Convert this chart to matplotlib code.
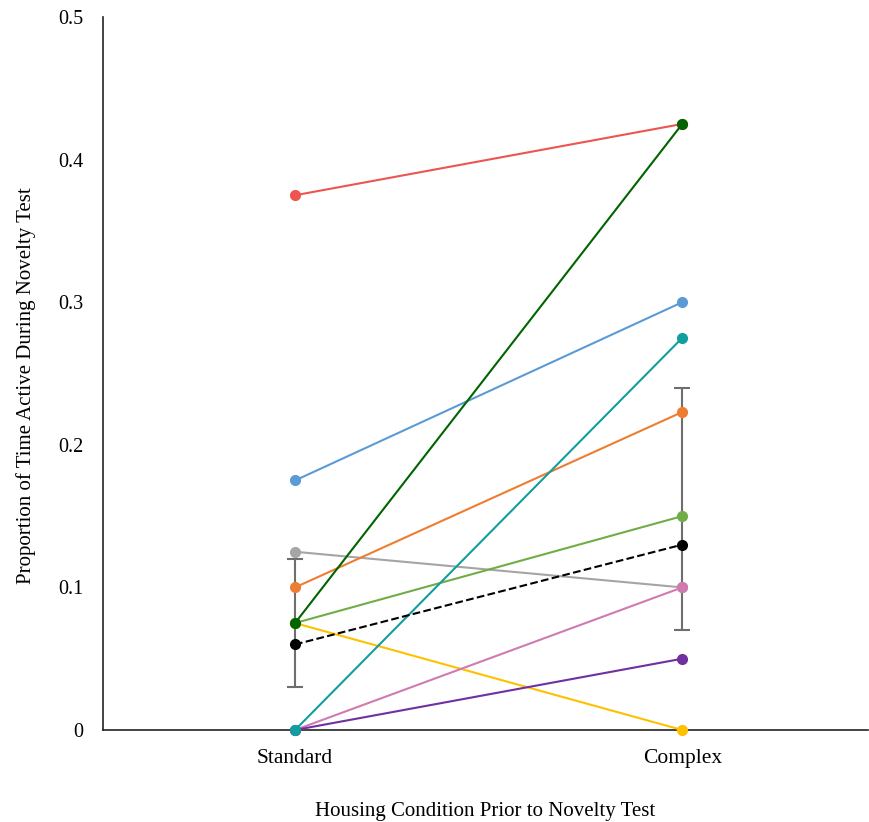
import matplotlib
matplotlib.use("Agg")
import matplotlib.pyplot as plt

plt.rcParams['font.family'] = ['Liberation Serif', 'DejaVu Serif']

conditions = ["Standard", "Complex"]

# Individual subjects: (standard, complex) proportions of time active
subject_standard = [0.375, 0.175, 0.125, 0.100, 0.075, 0.075, 0.0, 0.0, 0.075, 0.0]
subject_complex = [0.425, 0.300, 0.100, 0.223, 0.150, 0.0, 0.100, 0.050, 0.425, 0.275]
subject_colors = ["#EE5450", "#5B9BD5", "#A5A5A5", "#ED7D31", "#70AD47",
                  "#FFC000", "#D07AB0", "#7030A0", "#006400", "#129E9E"]

# Group mean with error range
mean_values = [0.06, 0.13]
err_low = [0.03, 0.07]
err_high = [0.12, 0.24]

fig = plt.figure(figsize=(8.69, 8.22), dpi=100)
ax = fig.add_axes([0.1185, 0.1119, 0.8805, 0.8674])

xpos = [1, 2]
for s, c, col in zip(subject_standard, subject_complex, subject_colors):
    ax.plot(xpos, [s, c], color=col, lw=1.5, marker='o', ms=7, zorder=3,
            clip_on=False)

yerr = [[m - lo for m, lo in zip(mean_values, err_low)],
        [hi - m for m, hi in zip(mean_values, err_high)]]
ax.errorbar(xpos, mean_values, yerr=yerr, fmt='none', ecolor='#6E6E6E',
            elinewidth=1.5, capsize=6, capthick=1.5, zorder=2)
ax.plot(xpos, mean_values, color='black', ls='--', lw=1.5, marker='o', ms=7,
        zorder=4)

ax.set_xlim(0.504, 2.48)
ax.set_ylim(0, 0.5)
ax.set_xticks(xpos)
ax.set_xticklabels(conditions, fontsize=15.5)
ax.set_yticks([0, 0.1, 0.2, 0.3, 0.4, 0.5])
ax.set_yticklabels(["0", "0.1", "0.2", "0.3", "0.4", "0.5"], fontsize=14.5)
ax.tick_params(length=0)
ax.tick_params(axis='y', pad=14)
ax.tick_params(axis='x', pad=14)

for side in ['top', 'right']:
    ax.spines[side].set_visible(False)
for side in ['left', 'bottom']:
    ax.spines[side].set_color('#222222')
    ax.spines[side].set_linewidth(1.2)

ax.set_xlabel("Housing Condition Prior to Novelty Test", fontsize=15,
              va='baseline')
ax.xaxis.set_label_coords(0.5, -0.1206)
ax.set_ylabel("Proportion of Time Active During Novelty Test", fontsize=15)
ax.yaxis.set_label_coords(-0.0876, 0.4825)

fig.savefig("out.png", dpi=100)
